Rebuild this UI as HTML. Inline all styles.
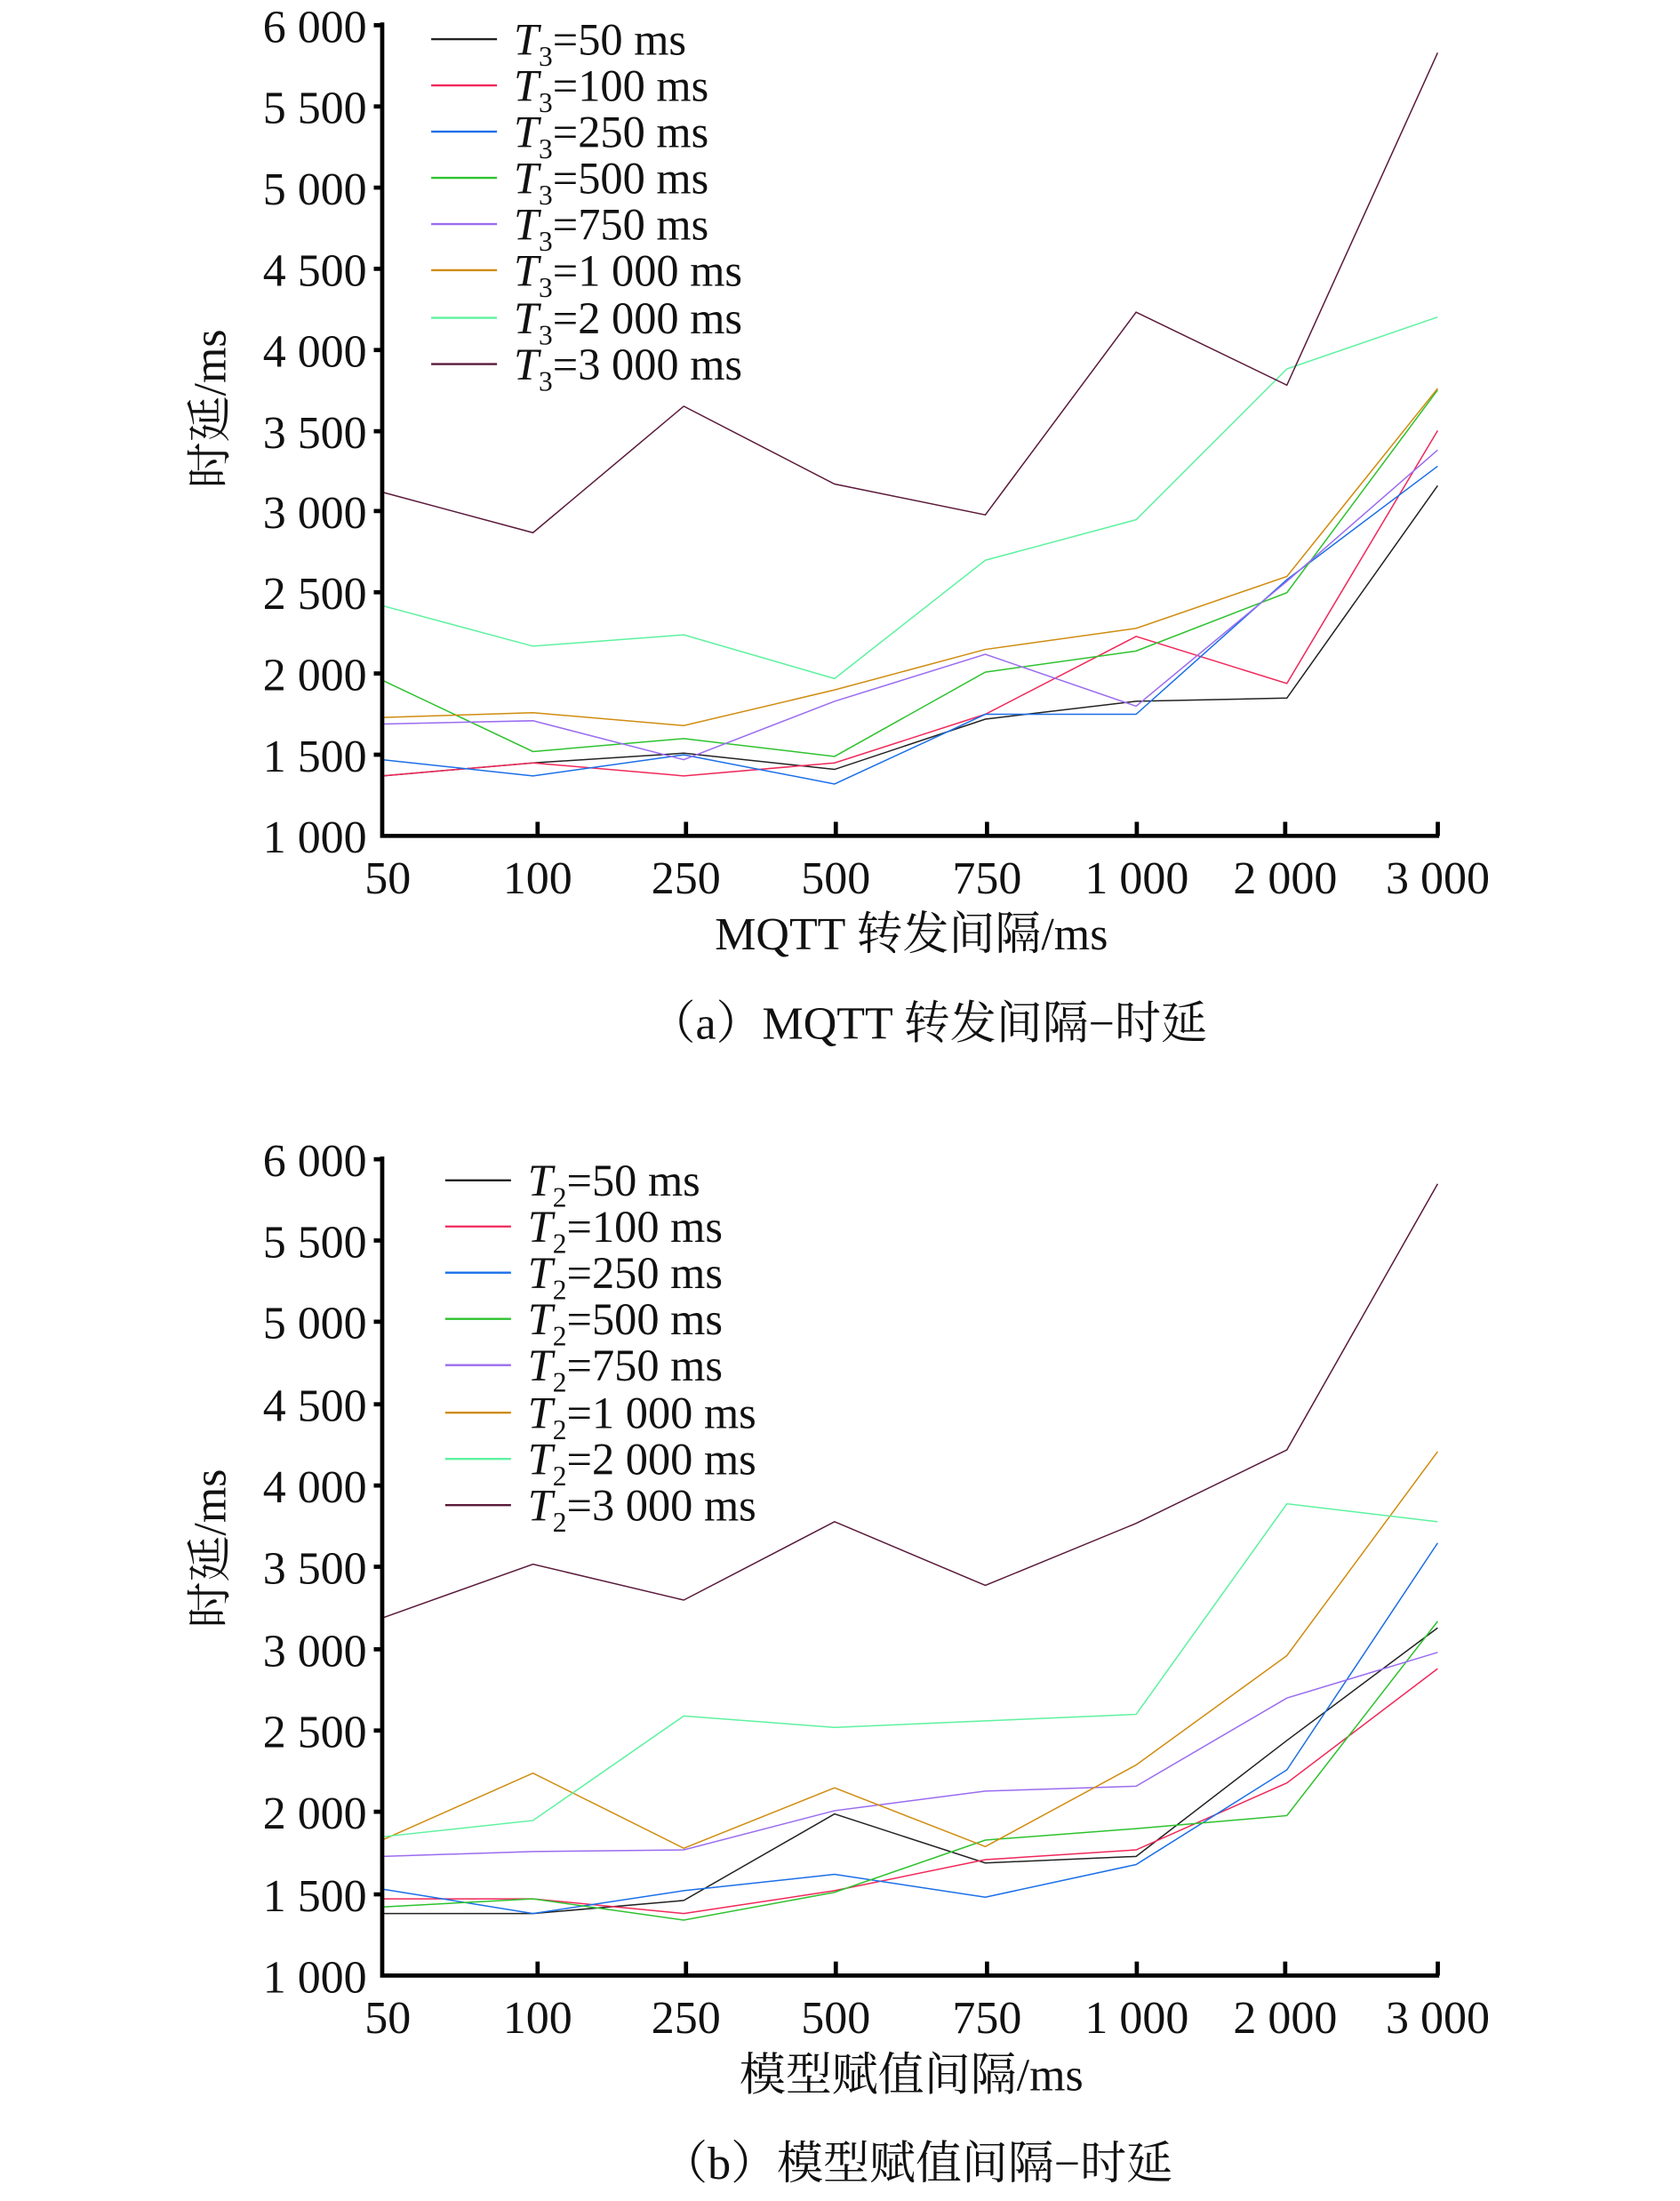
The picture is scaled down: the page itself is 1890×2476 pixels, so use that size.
<!DOCTYPE html>
<html><head><meta charset="utf-8"><style>
html,body{margin:0;padding:0;background:#fff}
svg{display:block}
text{font-family:"Liberation Serif","Noto Serif CJK SC",serif;fill:#111}
</style></head><body>
<svg width="1890" height="2476" viewBox="0 0 1200 1572" preserveAspectRatio="none" xmlns="http://www.w3.org/2000/svg">
<g fill="none" stroke-width="1.5">
<g transform="translate(273,712.8) scale(107.7,-0.1158)">
<polyline vector-effect="non-scaling-stroke" stroke="#222" points="0,1370 1,1450 2,1510 3,1410 4,1720 5,1830 6,1850 7,3160"/>
<polyline vector-effect="non-scaling-stroke" stroke="#f0285a" points="0,1370 1,1450 2,1370 3,1450 4,1750 5,2230 6,1940 7,3500"/>
<polyline vector-effect="non-scaling-stroke" stroke="#1a6fe8" points="0,1470 1,1370 2,1500 3,1320 4,1750 5,1750 6,2580 7,3280"/>
<polyline vector-effect="non-scaling-stroke" stroke="#2ec22e" points="0,1960 1,1520 2,1600 3,1490 4,2010 5,2140 6,2500 7,3750"/>
<polyline vector-effect="non-scaling-stroke" stroke="#9a6cf0" points="0,1690 1,1710 2,1470 3,1830 4,2120 5,1800 6,2570 7,3380"/>
<polyline vector-effect="non-scaling-stroke" stroke="#d08c10" points="0,1730 1,1760 2,1680 3,1900 4,2150 5,2280 6,2600 7,3760"/>
<polyline vector-effect="non-scaling-stroke" stroke="#5ef2a0" points="0,2420 1,2170 2,2240 3,1970 4,2700 5,2950 6,3880 7,4200"/>
<polyline vector-effect="non-scaling-stroke" stroke="#5a1a3a" points="0,3120 1,2870 2,3650 3,3170 4,2980 5,4230 6,3780 7,5830"/>
</g>
<g transform="translate(273,1527.6) scale(107.7,-0.1166)">
<polyline vector-effect="non-scaling-stroke" stroke="#222" points="0,1380 1,1380 2,1460 3,1990 4,1690 5,1730 6,2440 7,3130"/>
<polyline vector-effect="non-scaling-stroke" stroke="#f0285a" points="0,1470 1,1470 2,1380 3,1520 4,1710 5,1770 6,2180 7,2880"/>
<polyline vector-effect="non-scaling-stroke" stroke="#1a6fe8" points="0,1530 1,1380 2,1520 3,1620 4,1480 5,1680 6,2260 7,3650"/>
<polyline vector-effect="non-scaling-stroke" stroke="#2ec22e" points="0,1420 1,1470 2,1340 3,1510 4,1830 5,1900 6,1980 7,3170"/>
<polyline vector-effect="non-scaling-stroke" stroke="#9a6cf0" points="0,1730 1,1760 2,1770 3,2010 4,2130 5,2160 6,2700 7,2980"/>
<polyline vector-effect="non-scaling-stroke" stroke="#d08c10" points="0,1830 1,2240 2,1780 3,2150 4,1790 5,2290 6,2960 7,4210"/>
<polyline vector-effect="non-scaling-stroke" stroke="#5ef2a0" points="0,1850 1,1950 2,2590 3,2520 4,2560 5,2600 6,3890 7,3780"/>
<polyline vector-effect="non-scaling-stroke" stroke="#5a1a3a" points="0,3190 1,3520 2,3300 3,3780 4,3390 5,3770 6,4220 7,5850"/>
</g>
</g>
<g stroke="#000" stroke-width="3" fill="none">
<path d="M273,16 V597 H1028"/>
<path d="M273,18h-6 M273,76h-6 M273,134h-6 M273,192h-6 M273,250h-6 M273,308h-6 M273,365h-6 M273,423h-6 M273,481h-6 M273,539h-6"/>
<path d="M384,597v-10 M490,597v-10 M597,597v-10 M705,597v-10 M812,597v-10 M918,597v-10 M1027,597v-10"/>
<path d="M273,826 V1411 H1028"/>
<path d="M273,828h-6 M273,886h-6 M273,944h-6 M273,1003h-6 M273,1061h-6 M273,1119h-6 M273,1178h-6 M273,1236h-6 M273,1294h-6 M273,1353h-6"/>
<path d="M384,1411v-10 M490,1411v-10 M597,1411v-10 M705,1411v-10 M812,1411v-10 M918,1411v-10 M1027,1411v-10"/>
</g>
<g font-size="33" text-anchor="end">
<text x="262" y="30">6 000</text><text x="262" y="88">5 500</text><text x="262" y="146">5 000</text><text x="262" y="204">4 500</text><text x="262" y="262">4 000</text><text x="262" y="320">3 500</text><text x="262" y="377">3 000</text><text x="262" y="435">2 500</text><text x="262" y="493">2 000</text><text x="262" y="551">1 500</text><text x="262" y="609">1 000</text>
<text x="262" y="840">6 000</text><text x="262" y="898">5 500</text><text x="262" y="956">5 000</text><text x="262" y="1015">4 500</text><text x="262" y="1073">4 000</text><text x="262" y="1131">3 500</text><text x="262" y="1190">3 000</text><text x="262" y="1248">2 500</text><text x="262" y="1306">2 000</text><text x="262" y="1365">1 500</text><text x="262" y="1423">1 000</text>
</g>
<g font-size="33" text-anchor="middle">
<text x="277" y="638">50</text><text x="384" y="638">100</text><text x="490" y="638">250</text><text x="597" y="638">500</text><text x="705" y="638">750</text><text x="812" y="638">1 000</text><text x="918" y="638">2 000</text><text x="1027" y="638">3 000</text>
<text x="651" y="678">MQTT 转发间隔/ms</text>
<text x="663" y="742">（a）MQTT 转发间隔−时延</text>
<text x="277" y="1452">50</text><text x="384" y="1452">100</text><text x="490" y="1452">250</text><text x="597" y="1452">500</text><text x="705" y="1452">750</text><text x="812" y="1452">1 000</text><text x="918" y="1452">2 000</text><text x="1027" y="1452">3 000</text>
<text x="651" y="1493">模型赋值间隔/ms</text>
<text x="655" y="1556">（b）模型赋值间隔−时延</text>
<text transform="translate(161,292) rotate(-90)">时延/ms</text>
<text transform="translate(161,1106) rotate(-90)">时延/ms</text>
</g>
<g stroke-width="1.5">
<path stroke="#222" d="M308,28h47"/><path stroke="#f0285a" d="M308,61h47"/><path stroke="#1a6fe8" d="M308,94h47"/><path stroke="#2ec22e" d="M308,127h47"/><path stroke="#9a6cf0" d="M308,160h47"/><path stroke="#d08c10" d="M308,193h47"/><path stroke="#5ef2a0" d="M308,227h47"/><path stroke="#5a1a3a" d="M308,260h47"/>
<path stroke="#222" d="M318,843h47"/><path stroke="#f0285a" d="M318,876h47"/><path stroke="#1a6fe8" d="M318,909h47"/><path stroke="#2ec22e" d="M318,942h47"/><path stroke="#9a6cf0" d="M318,975h47"/><path stroke="#d08c10" d="M318,1009h47"/><path stroke="#5ef2a0" d="M318,1042h47"/><path stroke="#5a1a3a" d="M318,1075h47"/>
</g>
<g font-size="32">
<text x="367" y="39"><tspan font-style="italic">T</tspan><tspan font-size="20" dy="8">3</tspan><tspan dy="-8">=50 ms</tspan></text>
<text x="367" y="72"><tspan font-style="italic">T</tspan><tspan font-size="20" dy="8">3</tspan><tspan dy="-8">=100 ms</tspan></text>
<text x="367" y="105"><tspan font-style="italic">T</tspan><tspan font-size="20" dy="8">3</tspan><tspan dy="-8">=250 ms</tspan></text>
<text x="367" y="138"><tspan font-style="italic">T</tspan><tspan font-size="20" dy="8">3</tspan><tspan dy="-8">=500 ms</tspan></text>
<text x="367" y="171"><tspan font-style="italic">T</tspan><tspan font-size="20" dy="8">3</tspan><tspan dy="-8">=750 ms</tspan></text>
<text x="367" y="204"><tspan font-style="italic">T</tspan><tspan font-size="20" dy="8">3</tspan><tspan dy="-8">=1 000 ms</tspan></text>
<text x="367" y="238"><tspan font-style="italic">T</tspan><tspan font-size="20" dy="8">3</tspan><tspan dy="-8">=2 000 ms</tspan></text>
<text x="367" y="271"><tspan font-style="italic">T</tspan><tspan font-size="20" dy="8">3</tspan><tspan dy="-8">=3 000 ms</tspan></text>
<text x="377" y="854"><tspan font-style="italic">T</tspan><tspan font-size="20" dy="8">2</tspan><tspan dy="-8">=50 ms</tspan></text>
<text x="377" y="887"><tspan font-style="italic">T</tspan><tspan font-size="20" dy="8">2</tspan><tspan dy="-8">=100 ms</tspan></text>
<text x="377" y="920"><tspan font-style="italic">T</tspan><tspan font-size="20" dy="8">2</tspan><tspan dy="-8">=250 ms</tspan></text>
<text x="377" y="953"><tspan font-style="italic">T</tspan><tspan font-size="20" dy="8">2</tspan><tspan dy="-8">=500 ms</tspan></text>
<text x="377" y="986"><tspan font-style="italic">T</tspan><tspan font-size="20" dy="8">2</tspan><tspan dy="-8">=750 ms</tspan></text>
<text x="377" y="1020"><tspan font-style="italic">T</tspan><tspan font-size="20" dy="8">2</tspan><tspan dy="-8">=1 000 ms</tspan></text>
<text x="377" y="1053"><tspan font-style="italic">T</tspan><tspan font-size="20" dy="8">2</tspan><tspan dy="-8">=2 000 ms</tspan></text>
<text x="377" y="1086"><tspan font-style="italic">T</tspan><tspan font-size="20" dy="8">2</tspan><tspan dy="-8">=3 000 ms</tspan></text>
</g>
</svg>
</body></html>
